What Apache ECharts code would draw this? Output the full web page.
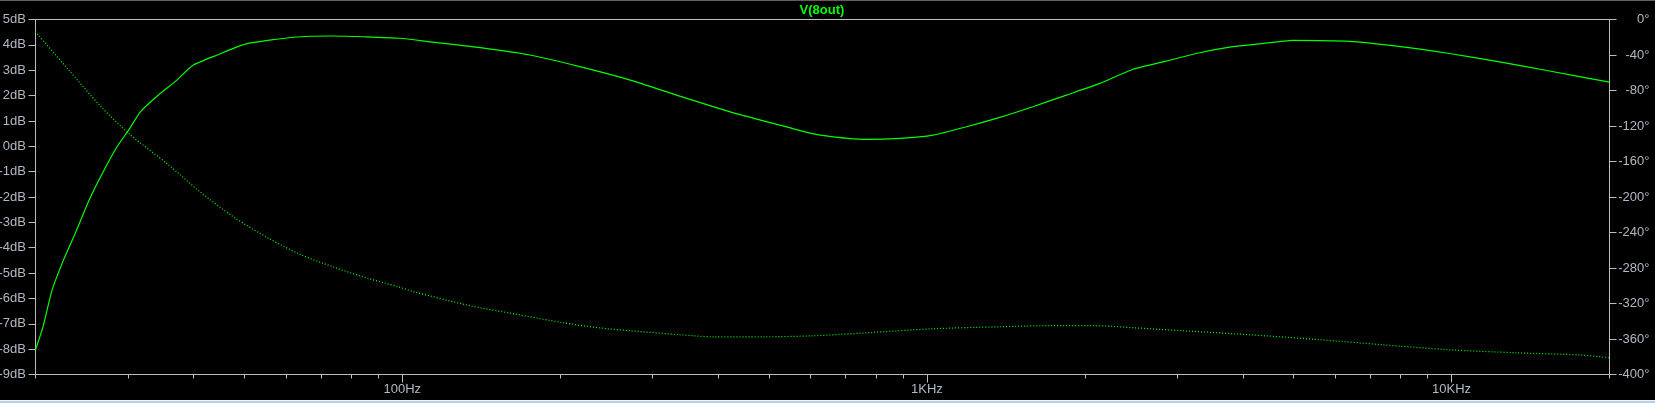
<!DOCTYPE html>
<html>
<head>
<meta charset="utf-8">
<script src="https://cdn.jsdelivr.net/npm/echarts@6/dist/echarts.min.js"></script>
<style>
html,body{margin:0;padding:0;background:#000;overflow:hidden;width:1655px;height:403px}
#c{position:absolute;left:0;top:0;width:1655px;height:403px}
#topb{position:absolute;left:0;top:0;width:1655px;height:1px;background:#5f5f5f}
#botb1{position:absolute;left:0;top:400px;width:1655px;height:1px;background:#eef2f7}
#botb2{position:absolute;left:0;top:401px;width:1655px;height:2px;background:#b7cfe8}
</style>
</head>
<body>
<div id="c"></div>
<div id="topb"></div>
<div id="botb1"></div>
<div id="botb2"></div>
<script>
// ---- data ----
const chartTitle = 'V(8out)';
const magFreq = [20, 20.7, 21.5, 22.6, 23.8, 25.3, 26.6, 28.6, 30.1, 31.7, 34.3, 37.2, 39.8, 44.4, 50.2, 62.1, 74.0, 84.4, 99, 113, 141, 175, 218, 272, 338, 422, 525, 573, 626, 768, 889, 1027, 1190, 1377, 1592, 1845, 2136, 2466, 2861, 3311, 3828, 4306, 4986, 6393, 7847, 9909, 12345, 15374, 20000];
const magDb   = [-8.03, -7.07, -5.68, -4.50, -3.44, -2.13, -1.21, -0.02, 0.64, 1.36, 2.02, 2.61, 3.18, 3.60, 4.03, 4.30, 4.35, 4.32, 4.26, 4.12, 3.89, 3.60, 3.14, 2.61, 1.98, 1.36, 0.83, 0.62, 0.44, 0.27, 0.31, 0.44, 0.77, 1.14, 1.56, 2.02, 2.48, 3.03, 3.36, 3.69, 3.93, 4.04, 4.18, 4.14, 3.95, 3.66, 3.33, 2.97, 2.53];
const phaseFreq = [20, 23.0, 26.6, 30.3, 35.6, 41.2, 47.7, 55.3, 63.9, 74.0, 85.6, 97.7, 105.1, 134.7, 162.9, 202.9, 236.6, 271.8, 338.4, 391.7, 487.7, 607.5, 768, 1027, 1377, 1714, 2075, 2472, 3076, 3832, 4121, 5525, 7396, 9909, 13285, 17780, 20000];
const phaseDeg  = [-13.8, -55.1, -97.6, -129.8, -162.3, -194.3, -222.5, -245.7, -264.6, -278.9, -291.3, -300.7, -306.7, -322.5, -331.5, -341.7, -347.3, -350.7, -355.2, -357.5, -357.5, -356.4, -353, -348.5, -346.2, -345, -345, -347.3, -350.7, -354, -355.2, -360.5, -366.5, -372.1, -375.5, -378.2, -381.2];
const xMinorTicks = [20, 30, 40, 50, 60, 70, 80, 90, 200, 300, 400, 500, 600, 700, 800, 900, 2000, 3000, 4000, 5000, 6000, 7000, 8000, 9000, 20000];
const xMajorTicks = [100, 1000, 10000];
const xTickLabels = {100: '100Hz', 1000: '1KHz', 10000: '10KHz'};
const dbMin = -9, dbMax = 5, dbStep = 1;
const degMin = -400, degMax = 0, degStep = 40;

// ---- styles ----
const axisCol = '#bdbdbd';
const textCol = '#b0b8c2';
const traceCol = '#00ff00';
const font = 'Liberation Sans, Arial, sans-serif';

const chart = echarts.init(document.getElementById('c'), null, {renderer: 'canvas'});
const xBase = {
  type: 'log', logBase: 10, min: 20, max: 20000, gridIndex: 0, position: 'bottom',
  splitLine: {show: false}, minorTick: {show: false}, minorSplitLine: {show: false}
};
chart.setOption({
  animation: false,
  backgroundColor: '#000',
  grid: {left: 35.5, right: 45.5, top: 19.5, bottom: 28.5, show: true, borderColor: axisCol, borderWidth: 1, backgroundColor: 'transparent', outerBoundsMode: 'none'},
  graphic: [{
    type: 'text', x: 822, y: 10,
    style: {text: chartTitle, fill: traceCol, font: 'bold 13px ' + font, align: 'center', verticalAlign: 'middle'}
  }],
  xAxis: [
    Object.assign({}, xBase, {
      axisLine: {show: true, onZero: false, lineStyle: {color: axisCol, width: 1}},
      axisTick: {show: true, customValues: xMinorTicks, length: 4, lineStyle: {color: axisCol}},
      axisLabel: {show: true, customValues: xMajorTicks, formatter: v => xTickLabels[Math.round(v)] || '', color: textCol, fontSize: 13, fontFamily: font, margin: 8}
    }),
    Object.assign({}, xBase, {
      axisLine: {show: false, onZero: false},
      axisTick: {show: true, customValues: xMajorTicks, length: 8, lineStyle: {color: axisCol}},
      axisLabel: {show: false}
    })
  ],
  yAxis: [
    {
      type: 'value', min: dbMin, max: dbMax, interval: dbStep, position: 'left',
      splitLine: {show: false},
      axisLine: {show: true, onZero: false, lineStyle: {color: axisCol}},
      axisTick: {show: true, length: 7, lineStyle: {color: axisCol}},
      axisLabel: {formatter: '{value}dB', color: textCol, fontSize: 13, fontFamily: font, margin: 9.5}
    },
    {
      type: 'value', min: degMin, max: degMax, interval: degStep, position: 'right',
      splitLine: {show: false},
      axisLine: {show: true, onZero: false, lineStyle: {color: axisCol}},
      axisTick: {show: true, length: 7, lineStyle: {color: axisCol}},
      axisLabel: {formatter: '{value}°', color: textCol, fontSize: 13, fontFamily: font, align: 'right', margin: 40}
    }
  ],
  series: [
    {
      name: 'mag', type: 'line', xAxisIndex: 0, yAxisIndex: 0,
      data: magFreq.map((f, i) => [f, magDb[i]]),
      showSymbol: false, smooth: 0.2, silent: true,
      lineStyle: {color: traceCol, width: 1.2}
    },
    {
      name: 'phase', type: 'line', xAxisIndex: 0, yAxisIndex: 1,
      data: phaseFreq.map((f, i) => [f, phaseDeg[i]]),
      showSymbol: false, smooth: 0.3, silent: true,
      lineStyle: {color: traceCol, width: 1.2, type: [1, 2]}
    }
  ]
});
</script>
</body>
</html>
